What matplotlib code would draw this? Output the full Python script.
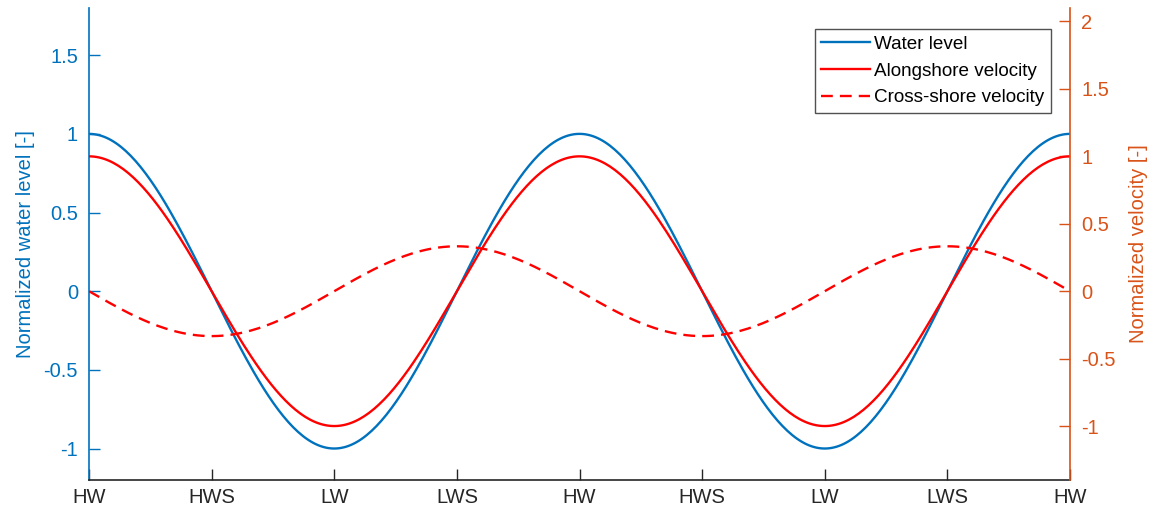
import numpy as np
import matplotlib.pyplot as plt

plt.rcParams['font.family'] = ['Liberation Sans', 'DejaVu Sans']

# tidal phases along the x axis (two tidal cycles)
tide_labels = ['HW', 'HWS', 'LW', 'LWS', 'HW', 'HWS', 'LW', 'LWS', 'HW']
n_cycles = 2

# normalized amplitudes of each signal
water_amp = 1.0
along_amp = 1.0
cross_amp = 0.333

blue = '#0072BD'
orange = '#D95319'
dark = '#262626'

t = np.linspace(0, n_cycles, 400)  # time in tidal periods
phase = 2 * np.pi * t
water = water_amp * np.cos(phase)
along = along_amp * np.cos(phase)
cross = -cross_amp * np.sin(phase)

fig = plt.figure(figsize=(11.56, 5.17), dpi=100)
ax = fig.add_axes([0.077, 0.0716, 0.8486, 0.9129])
ax2 = ax.twinx()

l1, = ax.plot(t, water, color=blue, lw=1.7, label='Water level')
l2, = ax2.plot(t, along, color='red', lw=1.7, label='Alongshore velocity')
l3, = ax2.plot(t, cross, color='red', lw=1.7, ls=(0, (5, 3)), label='Cross-shore velocity')

ax.set_xlim(0, n_cycles)
ax.set_ylim(-1.2, 1.8)
ax2.set_ylim(-1.4, 2.1)

ax.set_xticks(np.linspace(0, n_cycles, len(tide_labels)))
ax.set_xticklabels(tide_labels)
ax.set_yticks([-1, -0.5, 0, 0.5, 1, 1.5])
ax.set_yticklabels(['-1', '-0.5', '0', '0.5', '1', '1.5'])
ax2.set_yticks([-1, -0.5, 0, 0.5, 1, 1.5, 2])
ax2.set_yticklabels(['-1', '-0.5', '0', '0.5', '1', '1.5', '2'])

fs = 14.5
ax.set_ylabel('Normalized water level [-]', color=blue, fontsize=fs, labelpad=6)
ax2.set_ylabel('Normalized velocity [-]', color=orange, fontsize=fs, labelpad=10)

for a in (ax, ax2):
    a.spines['top'].set_visible(False)
    a.tick_params(direction='in', length=8, width=1, labelsize=fs)
ax.spines['right'].set_visible(False)
ax.spines['left'].set_color(blue)
ax.spines['left'].set_linewidth(1.2)
ax.spines['bottom'].set_color(dark)
ax.spines['bottom'].set_linewidth(1.2)
ax2.spines['left'].set_visible(False)
ax2.spines['bottom'].set_visible(False)
ax2.spines['right'].set_color(orange)
ax2.spines['right'].set_linewidth(1.2)
ax.tick_params(axis='y', colors=blue, pad=8)
ax.tick_params(axis='x', colors=dark, pad=6)
ax2.tick_params(axis='y', colors=orange, pad=8)

leg = ax2.legend(handles=[l1, l2, l3], loc='upper right', bbox_to_anchor=(0.9806, 0.9555),
                 fontsize=13.6, frameon=True, fancybox=False, borderpad=0.35,
                 labelspacing=0.5, handlelength=2.6, handletextpad=0.2,
                 borderaxespad=0)
leg.get_frame().set_edgecolor(dark)
leg.get_frame().set_linewidth(1.0)

fig.savefig('out.png', dpi=100)
